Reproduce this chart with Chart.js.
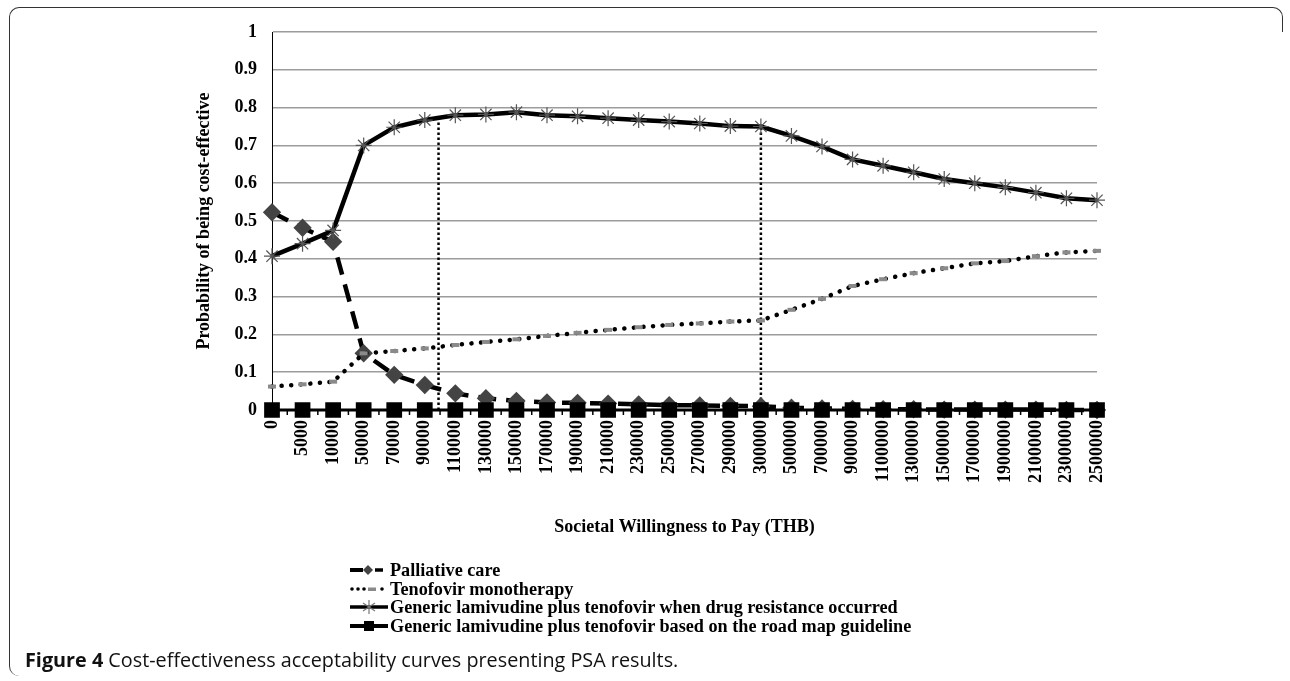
<!DOCTYPE html>
<html>
<head>
<meta charset="utf-8">
<script src="https://cdn.jsdelivr.net/npm/chart.js@4.4.1/dist/chart.umd.min.js"></script>
<style>
  html, body { margin: 0; padding: 0; background: #fff; }
  #wrap { position: relative; width: 1290px; height: 681px; overflow: hidden; }
  #chart { position: absolute; left: 0; top: 0; }
  .frame { position: absolute; left: 9px; top: 7px; width: 1254px; height: 668px;
    border-top: 1.5px solid #333; border-left: 1.5px solid #333;
    border-top-left-radius: 10px; border-bottom-left-radius: 10px; }
  .corner { position: absolute; left: 1262px; top: 7px; width: 20px; height: 24px;
    border-top: 1.5px solid #333; border-right: 1.5px solid #333; border-top-right-radius: 10px; }
  #legend { position: absolute; left: 350px; top: 561px; font: bold 18.2px "Liberation Serif", serif;
    line-height: 18.5px; color: #000; }
  #legend div { display: flex; align-items: center; height: 18.5px; white-space: nowrap; }
  #legend svg { margin-right: 2px; }
  #caption { position: absolute; left: 25px; top: 646px; font: 19.8px "Open Sans", sans-serif; color: #111; }
  #caption b { font-weight: bold; }
</style>
</head>
<body>
<div id="wrap">
  <canvas id="chart" width="1290" height="538"></canvas>
  <div class="frame"></div>
  <div class="corner"></div>
  <div id="legend"></div>
  <div id="caption"><b>Figure 4</b> Cost-effectiveness acceptability curves presenting PSA results.</div>
</div>
<script>
const categories = ["0", "5000", "10000", "50000", "70000", "90000", "110000", "130000", "150000",
  "170000", "190000", "210000", "230000", "250000", "270000", "290000", "300000", "500000",
  "700000", "900000", "1100000", "1300000", "1500000", "1700000", "1900000", "2100000",
  "2300000", "2500000"];

const seriesNames = [
  "Palliative care",
  "Tenofovir monotherapy",
  "Generic lamivudine plus tenofovir when drug resistance occurred",
  "Generic lamivudine plus tenofovir based on the road map guideline"
];

const palliative = [0.523, 0.482, 0.445, 0.15, 0.093, 0.066, 0.044, 0.031, 0.024, 0.02, 0.019,
  0.017, 0.015, 0.013, 0.012, 0.011, 0.01, 0.006, 0.004, 0.003, 0.002, 0.002, 0.001, 0.001,
  0.001, 0.001, 0, 0];

const tenofovir = [0.062, 0.068, 0.075, 0.15, 0.156, 0.163, 0.172, 0.18, 0.187, 0.196, 0.204,
  0.212, 0.219, 0.225, 0.229, 0.234, 0.237, 0.265, 0.294, 0.328, 0.346, 0.362, 0.375, 0.388,
  0.394, 0.407, 0.417, 0.421];

const resistance = [0.407, 0.44, 0.475, 0.70, 0.748, 0.767, 0.78, 0.782, 0.788, 0.78, 0.777,
  0.772, 0.767, 0.763, 0.758, 0.751, 0.75, 0.725, 0.697, 0.663, 0.646, 0.629, 0.611, 0.60,
  0.589, 0.575, 0.56, 0.555];

const roadMap = [0, 0, 0, 0, 0, 0, 0, 0, 0, 0, 0, 0, 0, 0, 0, 0, 0, 0, 0, 0, 0, 0, 0, 0, 0, 0, 0, 0];

// vertical reference lines (category position, height)
const thresholdPos = [5.45, 16];
const thresholdTop = [0.776, 0.75];

function toPoints(values) {
  return values.map((v, i) => ({ x: i, y: v }));
}

const serif = "'Liberation Serif', 'Times New Roman', serif";

const datasets = [
  {
    label: seriesNames[0],
    data: toPoints(palliative),
    borderColor: "#000",
    borderWidth: 4.5,
    borderDash: [18, 10],
    pointStyle: "rectRot",
    pointRadius: 6,
    pointBackgroundColor: "#444",
    pointBorderColor: "#444",
    order: 3
  },
  {
    label: seriesNames[1],
    data: toPoints(tenofovir),
    borderColor: "#000",
    borderWidth: 4.5,
    borderDash: [0.1, 9.5],
    borderCapStyle: "round",
    pointStyle: "line",
    pointRadius: 4,
    pointBorderWidth: 4,
    pointBorderColor: "#8a8a8a",
    order: 2
  },
  {
    label: seriesNames[2],
    data: toPoints(resistance),
    borderColor: "#000",
    borderWidth: 4.5,
    pointStyle: "star",
    pointRadius: 8,
    pointBorderWidth: 1.2,
    pointBorderColor: "#555",
    order: 0
  },
  {
    label: seriesNames[3],
    data: toPoints(roadMap),
    borderColor: "#000",
    borderWidth: 3,
    pointStyle: "rect",
    pointRadius: 9,
    pointBackgroundColor: "#000",
    pointBorderColor: "#000",
    order: 1
  }
];

thresholdPos.forEach((x, k) => {
  datasets.push({
    label: "threshold" + k,
    data: [{ x: x, y: 0 }, { x: x, y: thresholdTop[k] }],
    borderColor: "#000",
    borderWidth: 2.5,
    borderDash: [2.5, 2.5],
    pointRadius: 0,
    order: 10
  });
});

datasets.forEach((d) => {
  d.fill = false;
  d.tension = 0;
  d.clip = false;
});

// small tick marks between the categories, like the original axis
const betweenTicks = {
  id: "betweenTicks",
  beforeDatasetsDraw(chart) {
    const xs = chart.scales.x;
    const ctx = chart.ctx;
    const y0 = chart.chartArea.bottom;
    ctx.save();
    ctx.strokeStyle = "#000";
    ctx.lineWidth = 1.5;
    for (let i = 0; i < categories.length - 1; i++) {
      const px = xs.getPixelForValue(i + 0.5);
      ctx.beginPath();
      ctx.moveTo(px, y0);
      ctx.lineTo(px, y0 + 5);
      ctx.stroke();
    }
    ctx.restore();
  }
};

new Chart(document.getElementById("chart"), {
  type: "line",
  data: { datasets },
  plugins: [betweenTicks],
  options: {
    responsive: false,
    animation: false,
    layout: { padding: { left: 194, top: 32, right: 193, bottom: 0 } },
    plugins: {
      legend: { display: false },
      tooltip: { enabled: false }
    },
    scales: {
      x: {
        type: "linear",
        min: 0,
        max: categories.length - 1,
        afterFit: (scale) => { scale.height = 128; },
        ticks: {
          stepSize: 1,
          autoSkip: false,
          maxRotation: 90,
          minRotation: 90,
          padding: 10,
          color: "#000",
          font: { family: serif, size: 18, weight: "bold" },
          callback: (v) => categories[v]
        },
        grid: { display: false, drawTicks: false },
        border: { color: "#000", width: 2 },
        title: {
          display: true,
          text: "Societal Willingness to Pay (THB)",
          color: "#000",
          padding: 0,
          font: { family: serif, size: 18, weight: "bold" }
        }
      },
      y: {
        min: 0,
        max: 1,
        afterFit: (scale) => { scale.width = 78; },
        ticks: {
          stepSize: 0.1,
          padding: 15,
          color: "#000",
          font: { family: serif, size: 18, weight: "bold" },
          callback: (v) => String(+v.toFixed(1))
        },
        grid: { color: "#9c9c9c", lineWidth: 1.5, drawTicks: false },
        border: { color: "#000", width: 1 },
        title: {
          display: true,
          text: "Probability of being cost-effective",
          color: "#000",
          padding: 0,
          font: { family: serif, size: 18, weight: "bold" }
        }
      }
    }
  }
});

// legend below the chart
const samples = [
  '<line x1="0" y1="9" x2="13" y2="9" stroke="#000" stroke-width="4"/>' +
    '<polygon points="18,4 23,9 18,14 13,9" fill="#444"/>' +
    '<line x1="25" y1="9" x2="33" y2="9" stroke="#000" stroke-width="3.5"/>',
  '<circle cx="2" cy="9" r="1.8" fill="#000"/><circle cx="8" cy="9" r="1.8" fill="#000"/>' +
    '<circle cx="14" cy="9" r="1.8" fill="#000"/>' +
    '<rect x="18" y="7.5" width="8" height="3.5" fill="#8a8a8a"/>' +
    '<circle cx="32" cy="9" r="1.8" fill="#000"/>',
  '<line x1="0" y1="9" x2="38" y2="9" stroke="#000" stroke-width="3.5"/>' +
    '<g stroke="#777" stroke-width="1.2"><line x1="19" y1="2" x2="19" y2="16"/>' +
    '<line x1="13" y1="5" x2="25" y2="13"/><line x1="13" y1="13" x2="25" y2="5"/></g>',
  '<line x1="0" y1="9" x2="38" y2="9" stroke="#000" stroke-width="4"/>' +
    '<rect x="14" y="4" width="10" height="10" fill="#000"/>'
];

const legendBox = document.getElementById("legend");
seriesNames.forEach((name, i) => {
  const row = document.createElement("div");
  row.innerHTML = '<svg width="38" height="18" viewBox="0 0 38 18">' + samples[i] + "</svg>" +
    "<span>" + name + "</span>";
  legendBox.appendChild(row);
});
</script>
</body>
</html>
